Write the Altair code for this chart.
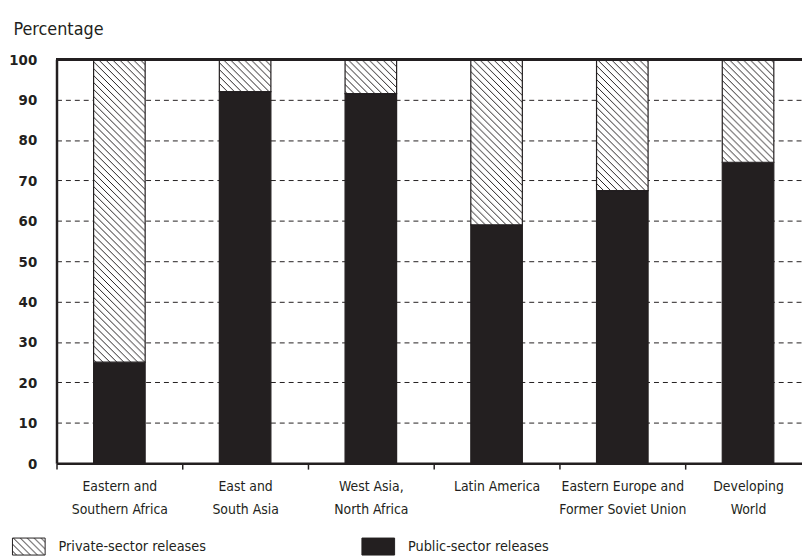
import altair as alt
import pandas as pd
import jinja2

# ---- data ----
region_lines = [
    ["Eastern and", "Southern Africa"],
    ["East and", "South Asia"],
    ["West Asia,", "North Africa"],
    ["Latin America"],
    ["Eastern Europe and", "Former Soviet Union"],
    ["Developing", "World"],
]
public_values = [25, 92, 91.5, 59, 67.5, 74.5]
private_values = [75, 8, 8.5, 41, 32.5, 25.5]
series_names = ["Private-sector releases", "Public-sector releases"]
y_ticks = [0, 10, 20, 30, 40, 50, 60, 70, 80, 90, 100]

INK = "#231f20"
FONT = "'DejaVu Sans Condensed', 'Liberation Sans Narrow', sans-serif"
STEP = 127  # width of one category band in pixels

regions = ["|".join(l) for l in region_lines]
rows = []
for r, pub, pri in zip(regions, public_values, private_values):
    rows.append({"region": r, "series": series_names[1], "value": pub, "stackorder": 0})
    rows.append({"region": r, "series": series_names[0], "value": pri, "stackorder": 1})
df = pd.DataFrame(rows)

x_enc = alt.X(
    "region:N",
    sort=regions,
    scale=alt.Scale(range=[0, STEP * len(regions)], paddingInner=0.59, paddingOuter=0.295),
    axis=alt.Axis(
        title=None,
        labelExpr="split(datum.label, '|')",
        labelAngle=0,
        labelFontSize=14,
        labelLineHeight=23,
        labelColor=INK,
        labelPadding=11,
        labelLimit=300,
        tickOffset=-STEP / 2,
        labelOffset=STEP / 2,
        tickSize=6,
        tickWidth=1.5,
        tickColor=INK,
        domainColor=INK,
        domainWidth=2.5,
        grid=False,
    ),
)

bars = alt.Chart(df).mark_bar(stroke=INK, strokeWidth=1.2).encode(
    x=x_enc,
    y=alt.Y(
        "value:Q",
        stack="zero",
        scale=alt.Scale(domain=[0, 100], nice=False),
        axis=alt.Axis(
            values=y_ticks,
            title="Percentage",
            titleAngle=0,
            titleX=-44,
            titleY=-25,
            titleAlign="left",
            titleBaseline="alphabetic",
            titleFontSize=18,
            titleFontWeight="normal",
            titleColor=INK,
            labelFontSize=15,
            labelFontWeight="bold",
            labelColor=INK,
            labelPadding=20,
            ticks=False,
            tickSize=0,
            domainColor=INK,
            domainWidth=2.5,
            grid=True,
            gridColor=INK,
            gridWidth=1,
            gridDash=[5, 4],
        ),
    ),
    fill=alt.Fill(
        "series:N",
        scale=alt.Scale(domain=series_names, range=["url(#hatch)", INK]),
        legend=alt.Legend(
            orient="none",
            legendX=-45,
            legendY=475,
            direction="horizontal",
            columns=2,
            title=None,
            padding=0,
            symbolType="M-1,-0.52H1V0.52H-1Z",
            symbolSize=1089,
            symbolStrokeColor=INK,
            symbolStrokeWidth=1,
            symbolOpacity=1,
            labelFontSize=14.5,
            labelColor=INK,
            labelOffset=13,
            labelLimit=400,
            columnPadding=154,
        ),
    ),
    order=alt.Order("stackorder:Q"),
)

top_rule = alt.Chart(df).mark_rule(color=INK, strokeWidth=2.5).encode(y=alt.datum(100))

chart = (
    alt.layer(bars, top_rule)
    .properties(
        width=753,
        height=408,
        autosize=alt.AutoSizeParams(type="none"),
        padding={"left": 49, "top": 49, "right": 0, "bottom": 93},
    )
    .configure(font=FONT)
    .configure_view(stroke=None)
)

TEMPLATE = jinja2.Template("""<!DOCTYPE html>
<html>
<head>
  <meta charset="utf-8">
  <style>
    #{{ output_div }}.vega-embed { width: 100%; display: flex; }
    #{{ output_div }}.vega-embed details,
    #{{ output_div }}.vega-embed details summary { position: relative; }
  </style>
  <script type="text/javascript" src="{{ base_url }}/vega@{{ vega_version }}"></script>
  <script type="text/javascript" src="{{ base_url }}/vega-lite@{{ vegalite_version }}"></script>
  <script type="text/javascript" src="{{ base_url }}/vega-embed@{{ vegaembed_version }}"></script>
</head>
<body>
  <svg width="0" height="0" style="position:absolute;left:0;top:0">
    <defs>
      <pattern id="hatch" patternUnits="userSpaceOnUse" width="7" height="7">
        <rect x="0" y="0" width="7" height="7" fill="#ffffff"/>
        <path d="M-1,-1 L8,8 M6,-1 L8,1 M-1,6 L1,8" stroke="#231f20" stroke-width="1"/>
      </pattern>
    </defs>
  </svg>
  <div id="{{ output_div }}"></div>
  <script type="text/javascript">
    (function(vegaEmbed) {
      var spec = {{ spec }};
      var embedOpt = {{ embed_options }};
      function showError(el, error){
        el.innerHTML = ('<div style="color:red;"><p>JavaScript Error: ' + error.message + '</p></div>');
        throw error;
      }
      const el = document.getElementById('{{ output_div }}');
      vegaEmbed("#{{ output_div }}", spec, embedOpt).catch(error => showError(el, error));
    })(vegaEmbed);
  </script>
</body>
</html>
""")

chart.save("out.html", embed_options={"renderer": "svg", "actions": False}, template=TEMPLATE)
